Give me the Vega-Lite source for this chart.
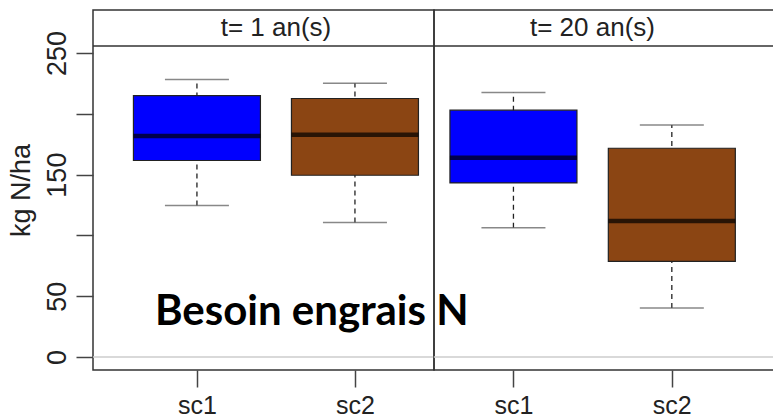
{
  "$schema": "https://vega.github.io/schema/vega-lite/v6.json",
  "background": "white",
  "padding": {"left": 6, "top": 9, "right": 0, "bottom": 0},
  "autosize": {"type": "pad"},
  "spacing": 0,
  "bounds": "flush",
  "datasets": {
    "boxes": [
      {"panel": "t= 1 an(s)", "sc": "sc1", "min": 124.6, "q1": 161.6, "median": 181.8, "q3": 215.0, "max": 228.2},
      {"panel": "t= 1 an(s)", "sc": "sc2", "min": 110.7, "q1": 149.5, "median": 182.7, "q3": 212.6, "max": 225.1},
      {"panel": "t= 20 an(s)", "sc": "sc1", "min": 106.3, "q1": 143.2, "median": 163.8, "q3": 203.0, "max": 217.5},
      {"panel": "t= 20 an(s)", "sc": "sc2", "min": 40.3, "q1": 78.6, "median": 111.8, "q3": 171.7, "max": 190.9}
    ]
  },
  "config": {
    "view": {"stroke": "#333", "strokeWidth": 1.5},
    "concat": {"spacing": 0},
    "font": "Liberation Sans",
    "axis": {
      "labelFont": "Liberation Sans", "titleFont": "Liberation Sans",
      "labelColor": "#222", "titleColor": "#222",
      "tickColor": "#444", "tickWidth": 1.5, "tickSize": 17,
      "domain": false, "grid": false, "titleFontWeight": "normal"
    }
  },
  "hconcat": [
    {
      "width": 341, "height": 360,
      "layer": [
        {"data": {"values": [{}]}, "mark": {"type": "rule", "color": "#333", "strokeWidth": 1.5},
         "encoding": {"y": {"datum": 255.8, "type": "quantitative", "title": "kg N/ha", "scale": {"domain": [-10.7, 285.4], "nice": false, "zero": false}}}},
        {"data": {"values": [{}]}, "mark": {"type": "rule", "color": "#cccccc", "strokeWidth": 1.5},
         "encoding": {"y": {"datum": 0, "type": "quantitative", "title": "kg N/ha"}}},
        {
          "data": {"name": "boxes"},
          "transform": [{"filter": "datum.panel === 't= 1 an(s)'"}],
          "layer": [
            {"mark": {"type": "rule", "color": "#222", "strokeWidth": 1.3, "strokeDash": [5, 4]},
             "encoding": {
               "x": {"field": "sc", "type": "nominal", "scale": {"type": "point", "padding": 0.579, "align": 0.568},
                     "axis": {"title": null, "labelAngle": 0, "labelFontSize": 25, "labelPadding": 6}},
               "y": {"field": "min", "type": "quantitative", "title": "kg N/ha",
                     "axis": {"values": [0, 50, 100, 150, 200, 250], "labelExpr": "datum.value == 100 || datum.value == 200 ? '' : datum.label",
                              "labelAngle": -90, "labelAlign": "center", "labelBaseline": "bottom", "labelPadding": 5,
                              "labelFontSize": 27, "titleFontSize": 27, "titlePadding": 8}},
               "y2": {"field": "max"}}},
            {"mark": {"type": "tick", "color": "#555", "thickness": 1.5, "size": 64},
             "encoding": {"x": {"field": "sc", "type": "nominal"}, "y": {"field": "min", "type": "quantitative", "title": "kg N/ha"}}},
            {"mark": {"type": "tick", "color": "#555", "thickness": 1.5, "size": 64},
             "encoding": {"x": {"field": "sc", "type": "nominal"}, "y": {"field": "max", "type": "quantitative", "title": "kg N/ha"}}},
            {"mark": {"type": "bar", "size": 127, "stroke": "#222", "strokeWidth": 1.2},
             "encoding": {
               "x": {"field": "sc", "type": "nominal"},
               "y": {"field": "q1", "type": "quantitative", "title": "kg N/ha"},
               "y2": {"field": "q3"},
               "color": {"field": "sc", "type": "nominal", "scale": {"domain": ["sc1", "sc2"], "range": ["#0000ff", "#8b4513"]}, "legend": null}}},
            {"mark": {"type": "tick", "color": "#000", "thickness": 4.5, "size": 127},
             "encoding": {"x": {"field": "sc", "type": "nominal"}, "y": {"field": "median", "type": "quantitative", "title": "kg N/ha"}}}
          ]
        },
        {"data": {"values": [{"label": "t= 1 an(s)"}]},
         "mark": {"type": "text", "font": "Liberation Sans", "fontSize": 26, "color": "#222", "align": "center", "baseline": "alphabetic", "dx": 79},
         "encoding": {"x": {"datum": "sc1", "type": "nominal"}, "y": {"datum": 263.8, "type": "quantitative", "title": "kg N/ha"}, "text": {"field": "label"}}},
        {"data": {"values": [{"label": "Besoin engrais N"}]},
         "mark": {"type": "text", "font": "Lato", "fontWeight": "bold", "fontSize": 42, "color": "#000", "align": "left", "baseline": "alphabetic", "dx": -42},
         "encoding": {"x": {"datum": "sc1", "type": "nominal"}, "y": {"datum": 26, "type": "quantitative", "title": "kg N/ha"}, "text": {"field": "label"}}}
      ]
    },
    {
      "width": 344, "height": 360,
      "layer": [
        {"data": {"values": [{}]}, "mark": {"type": "rule", "color": "#333", "strokeWidth": 1.5},
         "encoding": {"y": {"datum": 255.8, "type": "quantitative", "axis": null, "scale": {"domain": [-10.7, 285.4], "nice": false, "zero": false}}}},
        {"data": {"values": [{}]}, "mark": {"type": "rule", "color": "#cccccc", "strokeWidth": 1.5},
         "encoding": {"y": {"datum": 0, "type": "quantitative", "axis": null}}},
        {
          "data": {"name": "boxes"},
          "transform": [{"filter": "datum.panel === 't= 20 an(s)'"}],
          "layer": [
            {"mark": {"type": "rule", "color": "#222", "strokeWidth": 1.3, "strokeDash": [5, 4]},
             "encoding": {
               "x": {"field": "sc", "type": "nominal", "scale": {"type": "point", "padding": 0.586, "align": 0.428},
                     "axis": {"title": null, "labelAngle": 0, "labelFontSize": 25, "labelPadding": 6}},
               "y": {"field": "min", "type": "quantitative", "axis": null},
               "y2": {"field": "max"}}},
            {"mark": {"type": "tick", "color": "#555", "thickness": 1.5, "size": 64},
             "encoding": {"x": {"field": "sc", "type": "nominal"}, "y": {"field": "min", "type": "quantitative", "axis": null}}},
            {"mark": {"type": "tick", "color": "#555", "thickness": 1.5, "size": 64},
             "encoding": {"x": {"field": "sc", "type": "nominal"}, "y": {"field": "max", "type": "quantitative", "axis": null}}},
            {"mark": {"type": "bar", "size": 127, "stroke": "#222", "strokeWidth": 1.2},
             "encoding": {
               "x": {"field": "sc", "type": "nominal"},
               "y": {"field": "q1", "type": "quantitative", "axis": null},
               "y2": {"field": "q3"},
               "color": {"field": "sc", "type": "nominal", "scale": {"domain": ["sc1", "sc2"], "range": ["#0000ff", "#8b4513"]}, "legend": null}}},
            {"mark": {"type": "tick", "color": "#000", "thickness": 4.5, "size": 127},
             "encoding": {"x": {"field": "sc", "type": "nominal"}, "y": {"field": "median", "type": "quantitative", "axis": null}}}
          ]
        },
        {"data": {"values": [{"label": "t= 20 an(s)"}]},
         "mark": {"type": "text", "font": "Liberation Sans", "fontSize": 26, "color": "#222", "align": "center", "baseline": "alphabetic", "dx": 79},
         "encoding": {"x": {"datum": "sc1", "type": "nominal"}, "y": {"datum": 263.8, "type": "quantitative", "axis": null}, "text": {"field": "label"}}}
      ]
    }
  ]
}
